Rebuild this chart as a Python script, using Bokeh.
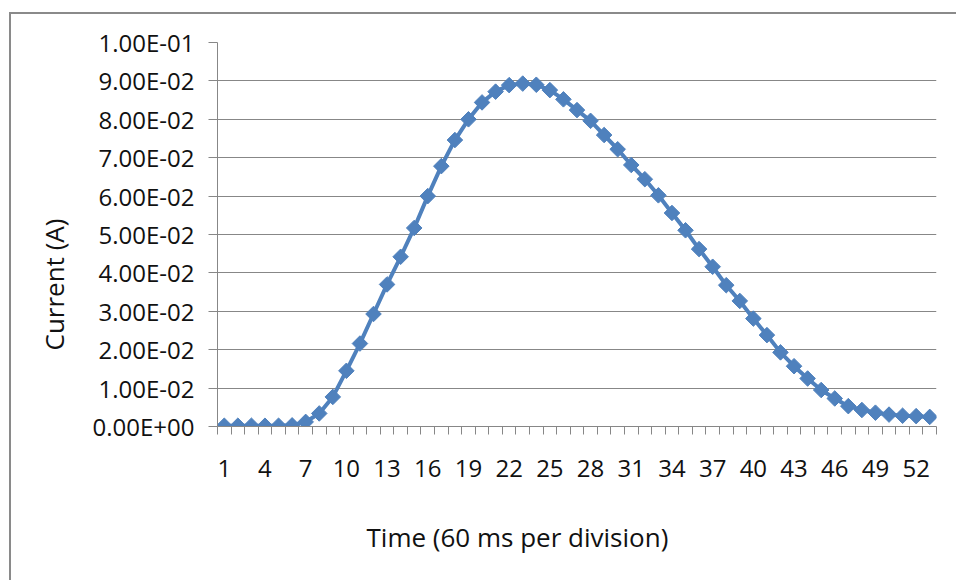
import numpy as np
from bokeh.plotting import figure
from bokeh.models import FixedTicker, Range1d, Title
from bokeh.embed import file_html
from bokeh.resources import INLINE

# ---- data ----
time_div = list(range(1, 54))
current = [0.0002, 0.0002, 0.0002, 0.0002, 0.0002, 0.0003, 0.0012, 0.0034, 0.0077, 0.0145,
           0.0216, 0.0293, 0.0370, 0.0442, 0.0517, 0.0600, 0.0678, 0.0746, 0.0800, 0.0844,
           0.0872, 0.0889, 0.0893, 0.0890, 0.0876, 0.0852, 0.0824, 0.0796, 0.0759, 0.0722,
           0.0681, 0.0644, 0.0602, 0.0556, 0.0511, 0.0462, 0.0416, 0.0368, 0.0327, 0.0281,
           0.0238, 0.0193, 0.0157, 0.0125, 0.0095, 0.0073, 0.0053, 0.0043, 0.0036, 0.0031,
           0.0028, 0.0027, 0.0025]
x_tick_values = [1, 4, 7, 10, 13, 16, 19, 22, 25, 28, 31, 34, 37, 40, 43, 46, 49, 52]
y_tick_values = [0.0, 0.01, 0.02, 0.03, 0.04, 0.05, 0.06, 0.07, 0.08, 0.09, 0.1]
y_tick_labels = ["0.00E+00", "1.00E-02", "2.00E-02", "3.00E-02", "4.00E-02", "5.00E-02",
                 "6.00E-02", "7.00E-02", "8.00E-02", "9.00E-02", "1.00E-01"]
x_title = "Time (60 ms per division)"
y_title = "Current (A)"

FONT = "Open Sans"
FS = "24px"
TFS = "26px"
GRID = "#878787"
BLUE = "#4F81BD"
TEXT = "#111111"
BORDER = "#8A8A8A"

L, R, T, B = 217, 20, 42, 154
W, H = 956, 580

p = figure(width=W, height=H, output_backend="svg", toolbar_location=None,
           x_range=Range1d(0.5, len(time_div) + 0.5), y_range=Range1d(0, 0.1),
           min_border_left=L, min_border_right=R, min_border_top=T, min_border_bottom=B)
p.outline_line_color = None
p.background_fill_color = "white"
p.border_fill_color = None

# outer chart-area border (left and top edges), drawn as the host element's CSS background
p.styles = {
    "background-color": "white",
    "background-image": f"linear-gradient({BORDER}, {BORDER}), linear-gradient({BORDER}, {BORDER})",
    "background-size": "2px 100%, 100% 2px",
    "background-position": "9px 12px, 9px 12px",
    "background-repeat": "no-repeat",
}

# x axis (category-like)
p.xaxis.ticker = FixedTicker(ticks=x_tick_values,
                             minor_ticks=[k + 0.5 for k in range(0, len(time_div) + 1)])
p.xaxis.major_tick_in = 0
p.xaxis.major_tick_out = 0
p.xaxis.minor_tick_in = 0
p.xaxis.minor_tick_out = 8
p.xaxis.minor_tick_line_color = GRID
p.xaxis.axis_line_color = GRID
p.xaxis.major_label_text_font = FONT
p.xaxis.major_label_text_font_size = FS
p.xaxis.major_label_text_color = TEXT
p.xaxis.major_label_standoff = 25
# invisible spacer label: adds room between tick labels and the axis title
p.xaxis.axis_label = " "
p.xaxis.axis_label_text_font_size = "2px"
p.xaxis.axis_label_text_alpha = 0
p.xaxis.axis_label_standoff = 28

# y axis
p.yaxis.ticker = FixedTicker(ticks=y_tick_values, minor_ticks=[])
p.yaxis.major_label_overrides = {v: s for v, s in zip(y_tick_values, y_tick_labels)}
p.yaxis.major_tick_in = 0
p.yaxis.major_tick_out = 9
p.yaxis.major_tick_line_color = GRID
p.yaxis.axis_line_color = GRID
p.yaxis.major_label_text_font = FONT
p.yaxis.major_label_text_font_size = FS
p.yaxis.major_label_text_color = TEXT
p.yaxis.major_label_standoff = 14

p.xgrid.visible = False
p.ygrid.ticker = FixedTicker(ticks=y_tick_values)
p.ygrid.grid_line_color = GRID
p.ygrid.grid_line_width = 1

# series
p.line(time_div, current, line_color=BLUE, line_width=4)
p.scatter(time_div, current, marker="square", angle=np.pi / 4, size=11,
          fill_color=BLUE, line_color=BLUE)

# axis titles
p.add_layout(Title(text=x_title, align="left", offset=149, standoff=8,
                   text_font=FONT, text_font_size=TFS, text_font_style="normal",
                   text_color=TEXT), "below")
p.add_layout(Title(text=y_title, align="left", offset=76, standoff=36,
                   text_font=FONT, text_font_size=TFS, text_font_style="normal",
                   text_color=TEXT), "left")

open("out.html", "w").write(file_html(p, INLINE))
